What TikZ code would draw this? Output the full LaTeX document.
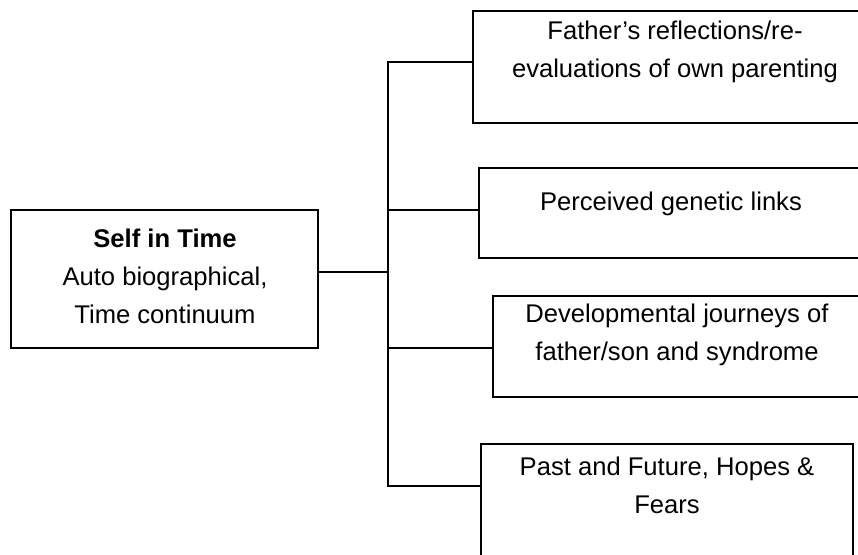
\documentclass[tikz,border=0pt]{standalone}
\usepackage{fontspec}
\setmainfont{Liberation Sans}
\usetikzlibrary{calc,fit}
\begin{document}
\begin{tikzpicture}[x=0.5pt,y=-0.5pt,
  box/.style={draw=black,line width=1pt,rectangle,inner sep=0pt},
  label/.style={align=center,inner sep=0pt,font=\fontsize{12.8}{19}\selectfont,anchor=base},
  link/.style={draw=black,line width=1pt}]
  \useasboundingbox (0,0) rectangle (858,554);
  \clip (0,0) rectangle (858,554);
  % central theme (label positioned by the baseline of its last line)
  \node[box,fit={(11,210) (318,348)}] (L) {};
  \node[label] (Lt) at (165,323) {\textbf{Self in Time}\\Auto biographical,\\Time continuum};
  % sub-themes
  \node[box,fit={(473,11) (877,123)}] (B1) {};
  \node[label] (T1) at (675,77) {Father’s reflections/re-\\evaluations of own parenting};
  \node[box,fit={(479,168) (864,258)}] (B2) {};
  \node[label] (T2) at (671,210) {Perceived genetic links};
  \node[box,fit={(493,296) (862,397)}] (B3) {};
  \node[label] (T3) at (677,360) {Developmental journeys of\\father/son and syndrome};
  \node[box,fit={(481,444) (853,620)}] (B4) {};
  \node[label] (T4) at (667,513) {Past and Future, Hopes \&\\Fears};
  % bracket junctions
  \coordinate (j1) at (388,62);
  \coordinate (j2) at (388,210);
  \coordinate (j3) at (388,348);
  \coordinate (j4) at (388,486);
  \coordinate (jL) at (388,272);
  \draw[link] (j1 -| B1.west) -- (j1) -- (j4) -- (j4 -| B4.west);
  \draw[link] (j2) -- (j2 -| B2.west);
  \draw[link] (j3) -- (j3 -| B3.west);
  \draw[link] (jL -| L.east) -- (jL);
\end{tikzpicture}
\end{document}
